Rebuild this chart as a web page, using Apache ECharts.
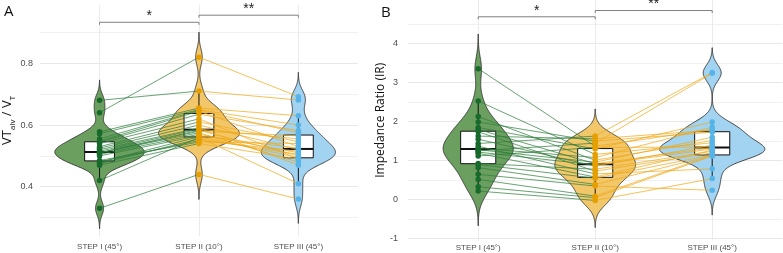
<!DOCTYPE html>
<html><head><meta charset="utf-8">
<script src="https://cdn.jsdelivr.net/npm/echarts@6/dist/echarts.min.js"></script>
<style>html,body{margin:0;padding:0;background:#fff}#c{width:783px;height:253px}</style>
</head><body><div id="c"></div>
<script>
// ---------- data ----------
const categories = ['STEP I (45°)', 'STEP II (10°)', 'STEP III (45°)'];
// Panel A: VTalv/VT, one entry per subject
const vtStep1 = [0.33, 0.64, 0.68, 0.42, 0.578, 0.572, 0.555, 0.548, 0.545, 0.54, 0.53, 0.525, 0.52, 0.515, 0.51, 0.51, 0.51, 0.505, 0.50, 0.48, 0.475, 0.48, 0.485, 0.47];
const vtStep2 = [0.44, 0.82, 0.71, 0.56, 0.655, 0.65, 0.648, 0.645, 0.635, 0.62, 0.61, 0.60, 0.59, 0.587, 0.583, 0.58, 0.575, 0.57, 0.565, 0.562, 0.555, 0.55, 0.545, 0.54];
const vtStep3 = [0.36, 0.692, 0.681, 0.41, 0.63, 0.60, 0.575, 0.53, 0.582, 0.49, 0.546, 0.52, 0.47, 0.555, 0.50, 0.565, 0.48, 0.51, 0.525, 0.495, 0.505, 0.515, 0.54, 0.49];
// Panel B: Impedance ratio, one entry per subject
const irStep1 = [3.36, 2.53, 2.13, 1.99, 1.85, 1.80, 1.74, 1.63, 1.55, 1.44, 1.37, 1.32, 1.28, 1.25, 1.22, 1.19, 1.12, 0.93, 0.90, 0.82, 0.65, 0.52, 0.33, 0.22];
const irStep2 = [1.37, 1.16, 1.01, 1.50, 1.30, 0.92, 0.73, 1.56, 0.86, 1.63, 0.66, 1.08, 0.96, 1.45, 0.89, 0.58, 1.34, 0.78, 0.55, 0.39, 0.35, 0.09, 0.05, -0.02];
const irStep3 = [1.80, 1.46, 1.52, 1.73, 1.99, 1.33, 1.20, 1.78, 1.40, 3.26, 0.79, 1.86, 1.60, 3.24, 1.30, 1.27, 1.35, 1.24, 1.15, 1.13, 0.24, 1.14, 1.12, 0.54];
// significance brackets
const sigPairs = [[1, 2], [2, 3]];
const sigLabels = ['*', '**'];
const vtSigY = [0.933, 0.956];
const irSigY = [4.69, 4.85];
// axis ticks / grid lines
const vtLabelTicks = [0.4, 0.6, 0.8];
const vtGridTicks = [0.3, 0.4, 0.5, 0.6, 0.7, 0.8, 0.9];
const irLabelTicks = [-1, 0, 1, 2, 3, 4];
const irGridTicks = [-1, -0.5, 0, 0.5, 1, 1.5, 2, 2.5, 3, 3.5, 4, 4.5];
const catTicks = [1, 2, 3];

// ---------- styles ----------
const dotColors = ['#17692c', '#e69f00', '#56b4e9'];
const fillColors = ['#6b9f5f', '#f2c76a', '#a2d3f1'];
const segColors = ['#2e7d3c', '#f0a818'];
const FONT = 'Liberation Sans, Arial, sans-serif';
const TFONT = 'Open Sans, Liberation Sans, sans-serif';

// ---------- helpers ----------
function quantile(s, p) { const h = (s.length - 1) * p, lo = Math.floor(h), hi = Math.min(lo + 1, s.length - 1); return s[lo] + (h - lo) * (s[hi] - s[lo]); }
function kde(vals) {
  const s = vals.slice().sort((a, b) => a - b), n = s.length;
  const mean = s.reduce((a, b) => a + b, 0) / n;
  const sd = Math.sqrt(s.reduce((a, b) => a + (b - mean) * (b - mean), 0) / (n - 1));
  const iqr = quantile(s, 0.75) - quantile(s, 0.25);
  let lo = Math.min(sd, iqr / 1.34); if (!(lo > 0)) lo = sd;
  const bw = 0.9 * lo * Math.pow(n, -0.2);
  const from = s[0] - 3 * bw, to = s[n - 1] + 3 * bw, N = 256, pts = [];
  for (let i = 0; i < N; i++) {
    const y = from + (to - from) * i / (N - 1); let d = 0;
    for (const v of s) { const u = (y - v) / bw; d += Math.exp(-0.5 * u * u); }
    pts.push([y, d / (n * bw * Math.sqrt(2 * Math.PI))]);
  }
  return pts;
}
function boxStats(vals) {
  const s = vals.slice().sort((a, b) => a - b);
  const q1 = quantile(s, 0.25), q2 = quantile(s, 0.5), q3 = quantile(s, 0.75), r = q3 - q1;
  const lo = s.find(v => v >= q1 - 1.5 * r), hi = s.slice().reverse().find(v => v <= q3 + 1.5 * r);
  return [lo, q1, q2, q3, hi];
}

function panelSeries(pi, steps, sigY) {
  const curves = steps.map(kde);
  const maxD = Math.max(...curves.map(c => Math.max(...c.map(p => p[1]))));
  const stats = steps.map(boxStats);
  const ax = { xAxisIndex: pi, yAxisIndex: pi };
  const out = [];
  out.push(Object.assign({
    type: 'custom', z: 1, clip: false, silent: true,
    data: steps.map((s, i) => [i + 1, stats[i][2]]),
    encode: { x: 0, y: 1 },
    renderItem: (params, api) => {
      const i = params.dataIndex, x = i + 1, c = curves[i];
      const left = c.map(p => api.coord([x - 0.45 * p[1] / maxD, p[0]]));
      const right = c.slice().reverse().map(p => api.coord([x + 0.45 * p[1] / maxD, p[0]]));
      return { type: 'polygon', shape: { points: left.concat(right) }, style: { fill: fillColors[i], stroke: '#333', lineWidth: 0.9 } };
    }
  }, ax));
  out.push(Object.assign({
    type: 'custom', z: 2, clip: false, silent: true,
    data: stats.map((st, i) => [i + 1].concat(st)),
    encode: { x: 0, y: [1, 2, 3, 4, 5] },
    renderItem: (params, api) => {
      const x = api.value(0), lo = api.value(1), q1 = api.value(2), md = api.value(3), q3 = api.value(4), hi = api.value(5);
      const a = api.coord([x - 0.15, q3]), b = api.coord([x + 0.15, q1]);
      const m1 = api.coord([x - 0.15, md]), m2 = api.coord([x + 0.15, md]);
      const c = api.coord([x, 0]);
      const pHi = api.coord([x, hi]), pLo = api.coord([x, lo]);
      return { type: 'group', children: [
        { type: 'line', shape: { x1: c[0], y1: pHi[1], x2: c[0], y2: a[1] }, style: { stroke: '#111', lineWidth: 1 } },
        { type: 'line', shape: { x1: c[0], y1: b[1], x2: c[0], y2: pLo[1] }, style: { stroke: '#111', lineWidth: 1 } },
        { type: 'rect', shape: { x: a[0], y: a[1], width: b[0] - a[0], height: b[1] - a[1] }, style: { fill: '#fff', stroke: '#111', lineWidth: 1 } },
        { type: 'line', shape: { x1: m1[0], y1: m1[1], x2: m2[0], y2: m2[1] }, style: { stroke: '#111', lineWidth: 2 } }
      ] };
    }
  }, ax));
  for (let k = 0; k < 2; k++) {
    out.push(Object.assign({
      type: 'lines', coordinateSystem: 'cartesian2d', z: 3, silent: true,
      data: steps[k].map((v, j) => ({ coords: [[k + 1, v], [k + 2, steps[k + 1][j]]] })),
      lineStyle: { color: segColors[k], width: 0.8, opacity: 0.9 }
    }, ax));
  }
  for (let k = 0; k < 3; k++) {
    out.push(Object.assign({
      type: 'scatter', z: 4, silent: true, symbolSize: 5.5,
      data: steps[k].map(v => [k + 1, v]),
      itemStyle: { color: dotColors[k], opacity: 1 }
    }, ax));
  }
  out.push(Object.assign({
    type: 'custom', z: 5, clip: false, silent: true,
    data: sigPairs.map((p, i) => [p[0], p[1], sigY[i]]),
    encode: { x: [0, 1], y: 2 },
    renderItem: (params, api) => {
      const a = api.coord([api.value(0), api.value(2)]), b = api.coord([api.value(1), api.value(2)]);
      return { type: 'group', children: [
        { type: 'polyline', shape: { points: [[a[0], a[1] + 2.5], a, b, [b[0], b[1] + 2.5]] }, style: { stroke: '#808080', lineWidth: 1, fill: null } },
        { type: 'text', x: (a[0] + b[0]) / 2, y: a[1] + 1, style: { text: sigLabels[params.dataIndex], fontSize: 14, fontFamily: FONT, fill: '#222', align: 'center', verticalAlign: 'bottom' } }
      ] };
    }
  }, ax));
  return out;
}

function xAxisCfg(gi) {
  return {
    gridIndex: gi, type: 'value', min: 0.4, max: 3.6,
    axisLine: { show: false }, axisTick: { show: false, customValues: catTicks },
    axisLabel: { customValues: catTicks, formatter: v => categories[Math.round(v) - 1], fontSize: 8, color: '#4d4d4d', fontFamily: FONT, margin: gi === 0 ? 7 : 3 },
    splitLine: { show: true, lineStyle: { color: '#ebebeb', width: 1 } }
  };
}

const chart = echarts.init(document.getElementById('c'), null, { renderer: 'canvas' });
chart.setOption({
  animation: false,
  backgroundColor: '#fff',
  grid: [
    { left: 34, top: 4.7, width: 324, height: 231.4 },
    { left: 408, top: 0, width: 374.4, height: 240.6 }
  ],
  xAxis: [xAxisCfg(0), xAxisCfg(1)],
  yAxis: [
    {
      gridIndex: 0, type: 'value', min: 0.24, max: 0.99,
      axisLine: { show: false }, axisTick: { show: false, customValues: vtGridTicks },
      axisLabel: { customValues: vtLabelTicks, fontSize: 9, color: '#4d4d4d', fontFamily: FONT, margin: 7 },
      splitLine: { show: true, lineStyle: { color: ['#f1f1f1', '#e8e8e8'], width: 1 } },
      name: '{m|VT}{s|alv}{m| / V}{s|T}', nameLocation: 'middle', nameRotate: 90, nameGap: 18,
      nameTextStyle: { fontFamily: TFONT, color: '#111', rich: {
        m: { fontSize: 13, fontFamily: TFONT, color: '#111', lineHeight: 18 },
        s: { fontSize: 8, fontFamily: TFONT, color: '#111', verticalAlign: 'bottom', lineHeight: 8 } } }
    },
    {
      gridIndex: 1, type: 'value', min: -1.05, max: 5.12,
      axisLine: { show: false }, axisTick: { show: false, customValues: irGridTicks },
      axisLabel: { customValues: irLabelTicks, fontSize: 9, color: '#4d4d4d', fontFamily: FONT, margin: 10 },
      splitLine: { show: true, lineStyle: { color: ['#e8e8e8', '#f1f1f1'], width: 1 } },
      name: 'Impedance Ratio (IR)', nameLocation: 'middle', nameRotate: 90, nameGap: 19,
      nameTextStyle: { fontFamily: TFONT, fontSize: 12, color: '#111' }
    }
  ],
  graphic: [
    { type: 'text', left: 4, top: 4, style: { text: 'A', fontSize: 15, fontFamily: TFONT, fill: '#111' } },
    { type: 'text', left: 381, top: 5, style: { text: 'B', fontSize: 15, fontFamily: TFONT, fill: '#111' } }
  ],
  series: panelSeries(0, [vtStep1, vtStep2, vtStep3], vtSigY).concat(panelSeries(1, [irStep1, irStep2, irStep3], irSigY))
});
</script></body></html>
